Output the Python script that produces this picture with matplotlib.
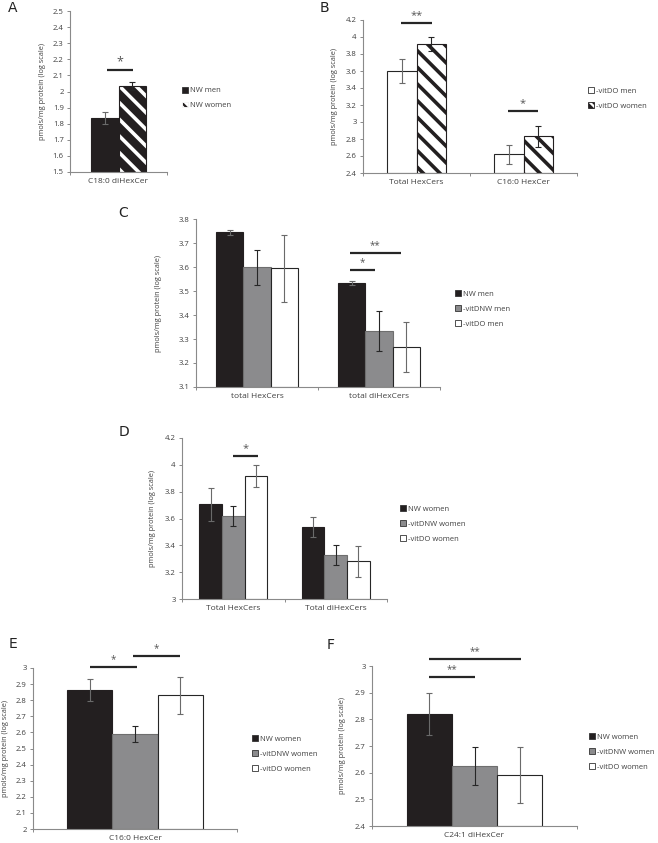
import matplotlib.pyplot as plt
import numpy as np
from matplotlib.patches import Patch

plt.rcParams['font.family'] = ['Open Sans', 'DejaVu Sans']
plt.rcParams['hatch.linewidth'] = 2.6

# ---- data (log-scale pmols/mg protein) ----
a_groups = ['C18:0 diHexCer']
a_series = ['NW men', 'NW women']
a_mean = [[1.835], [2.035]]
a_err = [[0.035], [0.025]]

b_groups = ['Total HexCers', 'C16:0 HexCer']
b_series = ['-vitDO men', '-vitDO women']
b_mean = [[3.60, 2.62], [3.92, 2.83]]
b_err = [[0.14, 0.11], [0.08, 0.12]]

c_groups = ['total HexCers', 'total diHexCers']
c_series = ['NW men', '-vitDNW men', '-vitDO men']
c_mean = [[3.745, 3.533], [3.598, 3.333], [3.595, 3.267]]
c_err = [[0.010, 0.008], [0.073, 0.085], [0.140, 0.105]]

d_groups = ['Total HexCers', 'Total diHexCers']
d_series = ['NW women', '-vitDNW women', '-vitDO women']
d_mean = [[3.705, 3.535], [3.620, 3.328], [3.918, 3.280]]
d_err = [[0.125, 0.073], [0.073, 0.078], [0.082, 0.117]]

e_groups = ['C16:0 HexCer']
e_series = ['NW women', '-vitDNW women', '-vitDO women']
e_mean = [[2.862], [2.590], [2.830]]
e_err = [[0.070], [0.048], [0.115]]

f_groups = ['C24:1 diHexCer']
f_series = ['NW women', '-vitDNW women', '-vitDO women']
f_mean = [[2.820], [2.625], [2.592]]
f_err = [[0.078], [0.073], [0.105]]

W, H = 658, 843
fig = plt.figure(figsize=(W / 100, H / 100), dpi=100)

BLACK = '#231f20'
GREY = '#8b8b8d'
AXIS = '#8a8a8a'
TXT = '#404040'

# bar styles: face, edge, hatch colour, error bar colour
S_BLACK = dict(face=BLACK, edge=BLACK, hatch=None, herr='#6a6a6a')
S_GREY = dict(face=GREY, edge='#6e6e6e', hatch=None, herr='#262626')
S_WHITE = dict(face='white', edge='#262626', hatch=None, herr='#6a6a6a')
S_HATCH_W = dict(face=BLACK, edge=BLACK, hatch='white', herr='#262626')
S_HATCH_B = dict(face='white', edge=BLACK, hatch=BLACK, herr='#262626')


def fmt(v):
    return ('%.1f' % v).rstrip('0').rstrip('.')


def panel(box, groups, series, means, errs, styles, ylim, step, gfrac,
          sigs, leg_xy, ylab_x, letter, letter_xy):
    left, top, right, bottom = box
    ax = fig.add_axes([left / W, 1 - bottom / H, (right - left) / W, (bottom - top) / H])
    n = len(series)
    bw = gfrac / n
    centers = np.arange(len(groups)) + 0.5
    handles = []
    for i, (name, m, e, st) in enumerate(zip(series, means, errs, styles)):
        x = centers - gfrac / 2 + bw * (i + 0.5)
        h = np.array(m) - ylim[0]
        if st['hatch'] is not None:
            ax.bar(x, h, bw, bottom=ylim[0], color=st['face'], edgecolor=st['hatch'],
                   hatch='\\\\', linewidth=0, zorder=2)
            ax.bar(x, h, bw, bottom=ylim[0], fill=False, edgecolor=st['edge'],
                   linewidth=0.8, zorder=3)
            handles.append(Patch(facecolor=st['face'], edgecolor=st['hatch'],
                                 hatch='\\\\\\\\', linewidth=0.6, label=name))
        else:
            ax.bar(x, h, bw, bottom=ylim[0], color=st['face'], edgecolor=st['edge'],
                   linewidth=0.8, zorder=2)
            handles.append(Patch(facecolor=st['face'], edgecolor='#333333',
                                 linewidth=0.6, label=name))
        ax.errorbar(x, m, yerr=e, fmt='none', ecolor=st['herr'], elinewidth=0.8,
                    capsize=2.3, capthick=0.8, zorder=4)
    ax.set_xlim(0, len(groups))
    ax.set_ylim(*ylim)
    ticks = np.arange(ylim[0], ylim[1] + step / 2, step)
    ax.set_yticks(ticks, [fmt(t) for t in ticks])
    ax.set_xticks(centers, groups)
    ax.set_xticks(np.arange(len(groups) + 1), minor=True)
    ax.tick_params(axis='x', which='major', length=0, pad=4, labelsize=6.0, labelcolor=TXT)
    ax.tick_params(axis='x', which='minor', length=2.5, width=0.7, color=AXIS)
    ax.tick_params(axis='y', length=2.5, width=0.7, color=AXIS, pad=2,
                   labelsize=5.6, labelcolor=TXT)
    for s in ('top', 'right'):
        ax.spines[s].set_visible(False)
    for s in ('left', 'bottom'):
        ax.spines[s].set_color(AXIS)
        ax.spines[s].set_linewidth(0.8)

    for x0, x1, y, star, fs in sigs:
        ax.plot([x0, x1], [y, y], color='#262626', lw=1.6, clip_on=False,
                solid_capstyle='butt', zorder=5)
        ax.annotate(star, ((x0 + x1) / 2, y), xytext=(0, 1.5), textcoords='offset points',
                    ha='center', va='bottom', fontsize=fs, color='#555555',
                    annotation_clip=False)

    fig.text(ylab_x / W, 1 - (top + bottom) / 2 / H, 'pmols/mg protein (log scale)',
             rotation=90, ha='center', va='center', fontsize=5.3, color=TXT)
    fig.text(letter_xy[0] / W, 1 - letter_xy[1] / H, letter, ha='center', va='center',
             fontsize=10, family='DejaVu Sans', color='#222222')
    fig.legend(handles=handles, loc='center left',
               bbox_to_anchor=(leg_xy[0] / W, 1 - leg_xy[1] / H),
               frameon=False, fontsize=5.5, handlelength=0.8, handleheight=0.8,
               handletextpad=0.25, labelspacing=0.95, borderpad=0, borderaxespad=0,
               labelcolor=TXT)
    return ax


panel((70, 11, 167, 172), a_groups, a_series, a_mean, a_err,
      [S_BLACK, S_HATCH_W], (1.5, 2.5), 0.1, 0.567,
      [(0.381, 0.649, 2.134, '*', 9)], (182, 98), 43, 'A', (13, 8))

panel((363, 20, 577, 173), b_groups, b_series, b_mean, b_err,
      [S_WHITE, S_HATCH_B], (2.4, 4.2), 0.2, 0.56,
      [(0.355, 0.645, 4.165, '**', 8), (1.355, 1.636, 3.13, '*', 8)],
      (588, 98.5), 335, 'B', (324, 8))

panel((196, 219, 440, 387), c_groups, c_series, c_mean, c_err,
      [S_BLACK, S_GREY, S_WHITE], (3.1, 3.8), 0.1, 0.664,
      [(1.26, 1.47, 3.5875, '*', 7), (1.26, 1.68, 3.658, '**', 7)],
      (455, 309), 159, 'C', (123, 213))

panel((182, 438, 387, 599), d_groups, d_series, d_mean, d_err,
      [S_BLACK, S_GREY, S_WHITE], (3.0, 4.2), 0.2, 0.663,
      [(0.498, 0.741, 4.066, '*', 8)],
      (400, 524), 153, 'D', (124, 432))

panel((33, 668, 237, 829), e_groups, e_series, e_mean, e_err,
      [S_BLACK, S_GREY, S_WHITE], (2.0, 3.0), 0.1, 0.662,
      [(0.279, 0.51, 3.005, '*', 7), (0.49, 0.72, 3.075, '*', 7)],
      (252, 754), 6, 'E', (13, 644))

panel((372, 666, 577, 826), f_groups, f_series, f_mean, f_err,
      [S_BLACK, S_GREY, S_WHITE], (2.4, 3.0), 0.1, 0.663,
      [(0.278, 0.502, 2.959, '**', 7), (0.278, 0.727, 3.026, '**', 7)],
      (589, 752), 343, 'F', (331, 645))

fig.savefig('out.png', dpi=100)
